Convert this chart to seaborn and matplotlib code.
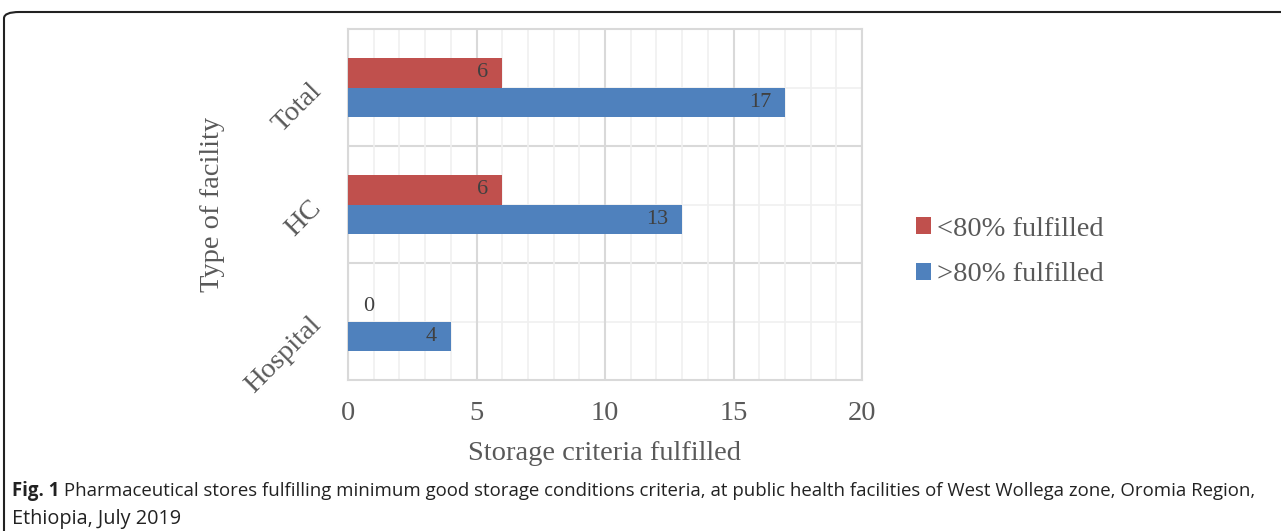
import matplotlib
matplotlib.use("Agg")
import matplotlib.pyplot as plt
import seaborn as sns
import pandas as pd
import numpy as np
from matplotlib.patches import FancyBboxPatch, Patch
from matplotlib.ticker import MultipleLocator

facilities = ["Total", "HC", "Hospital"]
groups = ["<80% fulfilled", ">80% fulfilled"]
below_80 = [6, 6, 0]
above_80 = [17, 13, 4]

colors = {"<80% fulfilled": "#C0504D", ">80% fulfilled": "#4F81BD"}

df = pd.DataFrame({
    "facility": facilities * 2,
    "group": [groups[0]] * 3 + [groups[1]] * 3,
    "value": below_80 + above_80,
})

sns.set_theme(style="white")
plt.rcParams["font.family"] = ["Liberation Serif", "DejaVu Serif"]

FS = 20.5
fig = plt.figure(figsize=(12.81, 5.31), dpi=100)
ax = fig.add_axes([348 / 1281, 1 - 380 / 531, 514 / 1281, 351 / 531])

sns.barplot(data=df, y="facility", x="value", hue="group", order=facilities,
            hue_order=groups, palette=colors, orient="h", width=0.51,
            saturation=1, edgecolor="none", ax=ax, legend=False, zorder=3)

ax.set_xlim(0, 20)
ax.set_ylim(2.5, -0.5)
ax.xaxis.set_major_locator(MultipleLocator(5))
ax.xaxis.set_minor_locator(MultipleLocator(1))
ax.grid(axis="x", which="major", color="#D9D9D9", lw=1.5, zorder=0)
ax.grid(axis="x", which="minor", color="#F0F0F0", lw=1.2, zorder=0)
for i in range(len(facilities)):
    ax.axhline(i, color="#F0F0F0", lw=1.2, zorder=0)
    if i > 0:
        ax.axhline(i - 0.5, color="#D9D9D9", lw=1.5, zorder=0)
for s in ax.spines.values():
    s.set_color("#D9D9D9")
    s.set_linewidth(1.5)
ax.tick_params(axis="both", which="both", length=0)
ax.tick_params(axis="x", pad=15, labelsize=FS, labelcolor="#595959")
ax.tick_params(axis="y", pad=22, labelsize=FS, labelcolor="#595959")
for lab in ax.get_yticklabels():
    lab.set_rotation(45)
    lab.set_ha("right")
    lab.set_va("center")
    lab.set_rotation_mode("anchor")

ax.set_xlabel("Storage criteria fulfilled", fontsize=FS, color="#595959", labelpad=11)
ax.set_ylabel("Type of facility", fontsize=FS, color="#595959")
ax.yaxis.set_label_coords(-0.239, 0.5)

# data labels, inside end
for cont in ax.containers:
    for bar in cont:
        w = bar.get_width()
        yc = bar.get_y() + bar.get_height() / 2
        if w > 0:
            ax.annotate(f"{w:.0f}", (w, yc), xytext=(-10, 0), textcoords="offset points",
                        ha="right", va="center", fontsize=16, color="#404040", zorder=4)
        else:
            ax.annotate(f"{w:.0f}", (w, yc), xytext=(15, 0), textcoords="offset points",
                        ha="center", va="center", fontsize=16, color="#404040", zorder=4)

handles = [Patch(facecolor=colors[g], edgecolor="none") for g in groups]
fig.legend(handles, groups, loc="center left", bbox_to_anchor=(916 / 1281, 1 - 252 / 531),
           frameon=False, fontsize=FS, labelcolor="#595959", handlelength=0.53,
           handleheight=0.53, handletextpad=0.2, labelspacing=0.72,
           borderpad=0, borderaxespad=0)

# figure frame
frame = FancyBboxPatch((4 / 1281, -0.1), 1.2, (531 - 12) / 531 + 0.1,
                       boxstyle="round,pad=0,rounding_size=0.012", transform=fig.transFigure,
                       facecolor="none", edgecolor="#222222", lw=1.5, mutation_aspect=531 / 1281 * 2.4)
fig.patches.append(frame)

cap_font = ["Open Sans", "DejaVu Sans"]
t1 = fig.text(12 / 1281, 1 - 491 / 531, "Fig. 1", fontsize=13.4, fontweight="bold", va="center",
              ha="left", family=cap_font, color="#222222")
fig.canvas.draw()
bb = t1.get_window_extent()
fig.text(bb.x1 / 1281, 1 - 491 / 531,
         " Pharmaceutical stores fulfilling minimum good storage conditions criteria, "
         "at public health facilities of West Wollega zone, Oromia Region,",
         fontsize=13.4, va="center", ha="left", family=cap_font, color="#222222")
fig.text(12 / 1281, 1 - 519 / 531, "Ethiopia, July 2019", fontsize=14.3, va="center", ha="left",
         family=cap_font, color="#222222")

fig.savefig("out.png", dpi=100)
